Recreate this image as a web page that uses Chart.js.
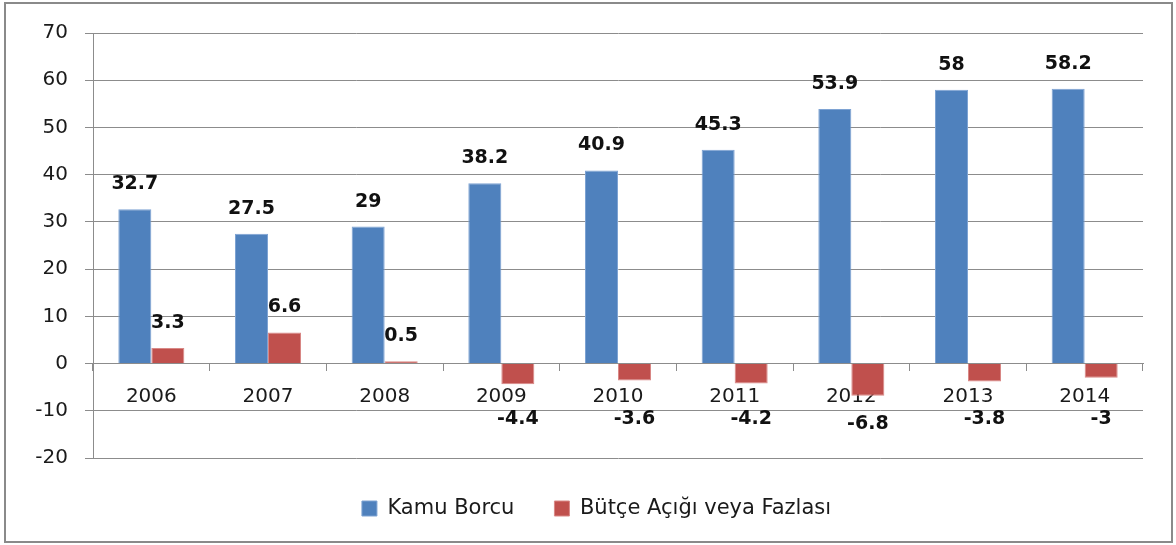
<!DOCTYPE html>
<html>
<head>
<meta charset="utf-8">
<script src="https://cdn.jsdelivr.net/npm/chart.js@4"></script>
<style>
  html, body { margin: 0; padding: 0; background: #fff; }
  #wrap { width: 1176px; height: 545px; }
</style>
</head>
<body>
<div id="wrap"><canvas id="debtChart" width="1176" height="545"></canvas></div>
<script>
// veriler
const years = ['2006', '2007', '2008', '2009', '2010', '2011', '2012', '2013', '2014'];
const kamuBorcu = [32.7, 27.5, 29, 38.2, 40.9, 45.3, 53.9, 58, 58.2];
const butceAcigi = [3.3, 6.6, 0.5, -4.4, -3.6, -4.2, -6.8, -3.8, -3];
const yTicks = [70, 60, 50, 40, 30, 20, 10, 0, -10, -20];

const FONT = 'DejaVu Sans';

// cerceve + beyaz zemin
const framePlugin = {
    id: 'frame',
    beforeDraw(chart) {
        const ctx = chart.ctx;
        ctx.save();
        ctx.fillStyle = '#fff';
        ctx.fillRect(0, 0, chart.width, chart.height);
        ctx.strokeStyle = '#8a8a8a';
        ctx.lineWidth = 2;
        ctx.strokeRect(5, 3, chart.width - 9, chart.height - 6);
        ctx.restore();
    },
    // legend Excel'deki gibi biraz saga
    afterLayout(chart) {
        if (chart.legend) {
            chart.legend.left += 25;
            chart.legend.right += 25;
        }
    }
};

// veri etiketleri (Excel tarzi)
const valueLabels = {
    id: 'valueLabels',
    afterDatasetsDraw(chart) {
        const ctx = chart.ctx;
        const zeroY = chart.scales.y.getPixelForValue(0);
        ctx.save();
        ctx.font = 'bold 19px ' + FONT;
        ctx.fillStyle = '#111';
        ctx.textAlign = 'center';
        ctx.textBaseline = 'middle';
        chart.data.datasets.forEach((ds, i) => {
            chart.getDatasetMeta(i).data.forEach((bar, j) => {
                const v = ds.data[j];
                let y;
                if (v >= 0) {
                    y = bar.y - 25;
                } else {
                    y = Math.max(zeroY + 56, bar.y + 28);
                }
                ctx.fillText(String(v), bar.x, y);
            });
        });
        ctx.restore();
    }
};

const ctx = document.getElementById('debtChart').getContext('2d');
new Chart(ctx, {
    type: 'bar',
    data: {
        labels: years,
        datasets: [{
            label: 'Kamu Borcu',
            data: kamuBorcu,
            backgroundColor: '#4F81BD',
            borderColor: '#7ea3d3',
            borderWidth: 1
        }, {
            label: 'Bütçe Açığı veya Fazlası',
            data: butceAcigi,
            backgroundColor: '#C0504D',
            borderColor: '#d98886',
            borderWidth: 1
        }]
    },
    options: {
        responsive: false,
        animation: false,
        layout: {
            padding: { left: 0, right: 33, top: 33, bottom: 16 }
        },
        datasets: {
            bar: { barPercentage: 1, categoryPercentage: 0.566 }
        },
        scales: {
            x: {
                position: { y: 0 },
                grid: {
                    offset: true,
                    drawOnChartArea: false,
                    drawTicks: true,
                    tickLength: 7,
                    color: '#8c8c8c'
                },
                border: { display: true, color: '#8c8c8c', width: 1 },
                ticks: {
                    color: '#1a1a1a',
                    font: { family: FONT, size: 20 },
                    padding: 14,
                    maxRotation: 0
                }
            },
            y: {
                min: -20,
                max: 70,
                afterFit(scale) { scale.width = 93; },
                afterBuildTicks(scale) {
                    scale.ticks = yTicks.map(v => ({ value: v }));
                },
                grid: {
                    color: '#8c8c8c',
                    tickLength: 8
                },
                border: { display: true, color: '#8c8c8c' },
                ticks: {
                    color: '#1a1a1a',
                    font: { family: FONT, size: 20 },
                    padding: 17
                }
            }
        },
        plugins: {
            legend: {
                position: 'bottom',
                labels: {
                    color: '#1a1a1a',
                    font: { family: FONT, size: 21 },
                    boxWidth: 15,
                    boxHeight: 15,
                    padding: 40
                }
            },
            tooltip: { enabled: false }
        }
    },
    plugins: [framePlugin, valueLabels]
});
</script>
</body>
</html>
